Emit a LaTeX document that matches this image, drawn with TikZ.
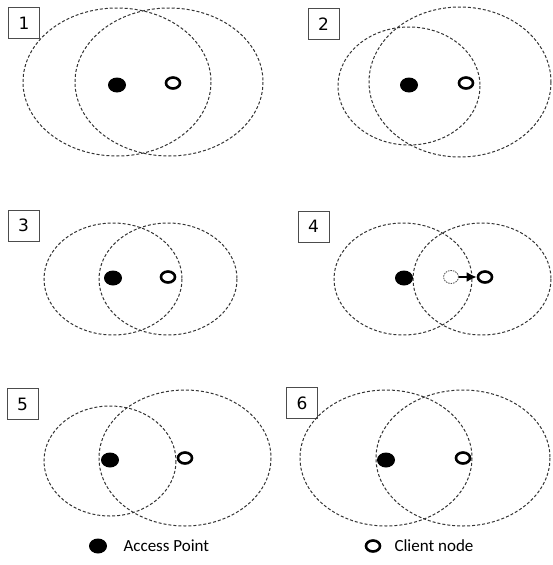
\documentclass[tikz,border=0pt]{standalone}
\usepackage{fontspec}
\setmainfont{Carlito}
\newfontfamily\numfont{DejaVu Sans}
\usetikzlibrary{arrows.meta,shapes.geometric}

\tikzset{
	rangering/.style={draw=black!80, dash pattern=on 3pt off 2pt, line width=1pt},
	ap/.style={ellipse, fill=black, minimum width=18pt, minimum height=15pt, inner sep=0pt},
	client/.style={ellipse, draw, line width=2.6pt, minimum width=14pt, minimum height=11pt, inner sep=0pt},
	ghost/.style={ellipse, draw=black!70, dash pattern=on 1.5pt off 1pt, line width=0.8pt, minimum width=15pt, minimum height=13pt, inner sep=0pt},
	numbox/.style={draw=black!70, line width=0.8pt, minimum size=31pt, inner sep=0pt, font=\numfont\fontsize{17}{20}\selectfont},
	legend/.style={anchor=west, font=\fontsize{17}{20}\selectfont}
}

\begin{document}
\begin{tikzpicture}[x=1pt, y=-1pt]
	\useasboundingbox (0,0) rectangle (552,565);

	% Panel 1
	\node[numbox] (n1) at (24,23) {1};
	\draw[rangering] (117,82) ellipse [x radius=94, y radius=74];
	\draw[rangering] (169,82) ellipse [x radius=94, y radius=74];
	\node[ap] (ap1) at (117,85) {};
	\node[client] (cl1) at (173,83) {};

	% Panel 2
	\node[numbox] (n2) at (323.5,24) {2};
	\draw[rangering] (409,86) ellipse [x radius=71, y radius=59];
	\draw[rangering] (460,82) ellipse [x radius=91, y radius=75];
	\node[ap] (ap2) at (409,85) {};
	\node[client] (cl2) at (466,83) {};

	% Panel 3
	\node[numbox] (n3) at (23.5,225.5) {3};
	\draw[rangering] (113,279) ellipse [x radius=69, y radius=56];
	\draw[rangering] (168,279) ellipse [x radius=69, y radius=56];
	\node[ap] (ap3) at (113,278) {};
	\node[client] (cl3) at (168,277) {};

	% Panel 4
	\node[numbox] (n4) at (313.5,226.5) {4};
	\draw[rangering] (403,279) ellipse [x radius=69, y radius=56];
	\draw[rangering] (482,279) ellipse [x radius=69, y radius=56];
	\node[ap] (ap4) at (404,278) {};
	\node[ghost] (old4) at (451,277) {};
	\node[client] (cl4) at (485,277) {};
	\draw[-{Latex[length=10pt,width=10pt]}, line width=2pt] (old4) -- (cl4);

	% Panel 5
	\node[numbox] (n5) at (22.5,404) {5};
	\draw[rangering] (110,461) ellipse [x radius=66, y radius=55];
	\draw[rangering] (185,458) ellipse [x radius=86, y radius=68];
	\node[ap] (ap5) at (110,460) {};
	\node[client] (cl5) at (185,458) {};

	% Panel 6
	\node[numbox] (n6) at (302,403) {6};
	\draw[rangering] (386,458) ellipse [x radius=86, y radius=68];
	\draw[rangering] (463,458) ellipse [x radius=87, y radius=68];
	\node[ap] (ap6) at (386,460) {};
	\node[client] (cl6) at (463,458) {};

	% Legend
	\node[ap] (apkey) at (98,546) {};
	\node[legend] (aptext) at (120,546) {Access Point};
	\node[client] (clkey) at (373,546) {};
	\node[legend] (cltext) at (391,546) {Client node};

\end{tikzpicture}
\end{document}
